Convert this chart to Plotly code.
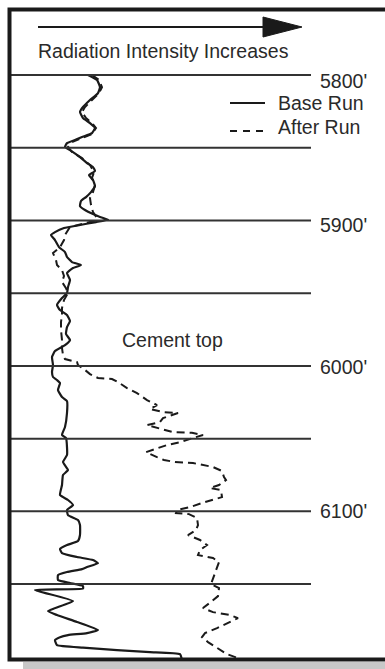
import plotly.graph_objects as go

W, H = 385, 669

# ---- data (depth in ft, relative radiation intensity) ----
base_depth = [5800.0, 5803.4, 5808.3, 5812.4, 5817.2, 5822.0, 5825.4, 5829.6, 5833.0, 5836.4,
              5839.9, 5842.6, 5844.7, 5846.8, 5849.5, 5851.6, 5856.4, 5860.5, 5863.3, 5866.0,
              5868.8, 5872.2, 5876.3, 5880.5, 5883.9, 5886.6, 5890.1, 5892.8, 5895.6, 5897.6,
              5899.4, 5901.1, 5903.1, 5905.2, 5908.0, 5910.0, 5913.5, 5918.3, 5921.7, 5925.1,
              5928.6, 5930.6, 5932.7, 5936.1, 5940.9, 5945.8, 5949.9, 5953.3, 5958.1, 5961.6,
              5965.0, 5969.2, 5973.3, 5978.1, 5982.2, 5985.7, 5989.8, 5993.9, 5999.4, 6004.2,
              6007.6, 6009.7, 6011.8, 6016.6, 6021.4, 6024.2, 6032.4, 6042.0, 6047.5, 6049.6,
              6055.8, 6061.3, 6066.1, 6071.6, 6075.0, 6081.9, 6088.8, 6092.2, 6095.7, 6099.1,
              6102.6, 6106.0, 6109.4, 6116.3, 6120.4, 6123.2, 6125.9, 6128.7, 6131.4, 6133.5,
              6135.6, 6138.3, 6139.7, 6141.7, 6143.8, 6147.2, 6149.3, 6151.4, 6153.1, 6154.1,
              6161.7, 6168.6, 6171.3, 6176.1, 6181.6, 6183.7, 6185.1, 6186.5, 6188.5, 6192.0,
              6193.7, 6195.4, 6196.8, 6198.2, 6202.3]
base_intensity = [88, 97, 100, 98, 90, 83, 80, 83, 90, 95,
                  92, 82, 75, 67, 65, 70, 80, 87, 93, 95,
                  89, 93, 95, 91, 86, 81, 80, 85, 93, 100,
                  108, 96, 80, 64, 55, 51, 55, 59, 65, 67,
                  72, 81, 73, 67, 70, 68, 67, 62, 57, 60,
                  67, 70, 67, 66, 70, 65, 55, 52, 53, 52,
                  53, 57, 60, 58, 62, 67, 67, 65, 62, 66,
                  67, 67, 63, 68, 63, 62, 60, 68, 73, 67,
                  68, 78, 80, 80, 78, 67, 60, 62, 77, 93,
                  98, 87, 82, 67, 58, 58, 70, 83, 83, 35,
                  73, 48, 57, 77, 98, 87, 68, 60, 55, 57,
                  83, 117, 150, 180, 182]

after_depth = [5800.0, 5803.4, 5808.3, 5812.4, 5817.2, 5822.0, 5825.4, 5829.6, 5833.0, 5836.4,
               5840.6, 5842.6, 5846.1, 5849.5, 5852.9, 5857.1, 5861.9, 5866.7, 5870.8, 5875.6,
               5880.5, 5884.6, 5889.4, 5894.2, 5898.3, 5900.4, 5904.5, 5910.0, 5913.5, 5918.3,
               5922.4, 5927.2, 5930.6, 5934.1, 5938.2, 5942.3, 5946.5, 5949.9, 5954.7, 5960.2,
               5965.0, 5969.8, 5975.3, 5982.2, 5987.7, 5992.5, 5995.3, 5997.3, 5999.4, 6002.8,
               6005.6, 6008.3, 6009.0, 6011.1, 6015.2, 6018.7, 6023.5, 6026.9, 6029.7, 6031.7,
               6032.4, 6035.9, 6038.6, 6040.7, 6042.7, 6045.5, 6046.0, 6047.5, 6049.6, 6052.4,
               6054.4, 6056.5, 6059.3, 6062.7, 6064.7, 6066.1, 6066.8, 6069.5, 6072.3, 6076.4,
               6078.5, 6081.9, 6084.0, 6085.4, 6090.2, 6093.6, 6097.1, 6099.1, 6101.2, 6101.9,
               6104.6, 6109.4, 6112.9, 6116.3, 6119.7, 6123.2, 6126.6, 6130.1, 6132.1, 6134.9,
               6140.4, 6145.9, 6150.0, 6152.8, 6158.3, 6161.7, 6166.5, 6169.3, 6171.3, 6173.4,
               6176.8, 6180.3, 6183.7, 6186.5, 6189.9, 6194.0, 6198.2, 6200.9]
after_intensity = [92, 99, 102, 99, 92, 85, 82, 86, 92, 96,
                   92, 85, 72, 68, 72, 82, 90, 94, 92, 95,
                   93, 90, 91, 93, 97, 94, 70, 65, 64, 60,
                   53, 56, 57, 62, 64, 62, 66, 68, 64, 62,
                   62, 61, 61, 62, 62, 63, 65, 77, 78, 85,
                   90, 98, 112, 118, 127, 137, 147, 157, 150, 163,
                   178, 163, 160, 147, 158, 173, 192, 203, 193, 180,
                   167, 157, 146, 157, 164, 175, 193, 213, 222, 224,
                   226, 219, 210, 221, 222, 205, 190, 177, 176, 189,
                   197, 198, 196, 188, 200, 207, 200, 198, 213, 219,
                   216, 213, 211, 219, 218, 212, 203, 213, 230, 238,
                   228, 217, 205, 202, 208, 217, 227, 238]

grid_depths = [5800, 5850, 5900, 5950, 6000, 6050, 6100, 6150]
label_depths = [5800, 5900, 6000, 6100]
label_texts = ["5800'", "5900'", "6000'", "6100'"]
label_shift = [-6, -5, -1, 0]

series_names = ["Base Run", "After Run"]
title_text = "Radiation Intensity Increases"
note_text = "Cement top"

# ---- geometry ----
Y_TOP, Y_BOTTOM = 5748.4, 6208.4
X_MAX = 385
INK = "#1a1a1a"
TXT = "#2a2a2a"
FONT = "Liberation Sans, Arial, sans-serif"
FS = 19.5


def px(x):
    return x / W


def py(y):
    return 1 - y / H


fig = go.Figure()
fig.add_trace(go.Scatter(x=base_intensity, y=base_depth, mode="lines", name=series_names[0],
                         line=dict(color=INK, width=2.2, shape="spline", smoothing=0.4),
                         hoverinfo="skip"))
fig.add_trace(go.Scatter(x=after_intensity, y=after_depth, mode="lines", name=series_names[1],
                         line=dict(color=INK, width=2, dash="8px,5px"),
                         hoverinfo="skip"))

shapes = []
# shadow
shapes.append(dict(type="rect", xref="paper", yref="paper", x0=px(23), x1=px(400),
                   y0=py(669), y1=py(662), fillcolor="#c8c8c8", line=dict(width=0), layer="below"))
# depth lines
for d in grid_depths:
    shapes.append(dict(type="line", xref="paper", yref="y", x0=px(11), x1=px(311), y0=d, y1=d,
                       line=dict(color="#333333", width=2)))
# border
shapes.append(dict(type="rect", xref="paper", yref="paper", x0=px(9.5), x1=px(400),
                   y0=py(659.5), y1=py(9.5), line=dict(color=INK, width=4)))
# arrow
shapes.append(dict(type="line", xref="paper", yref="paper", x0=px(38), x1=px(266), y0=py(27), y1=py(27),
                   line=dict(color=INK, width=2)))
shapes.append(dict(type="path", xref="paper", yref="paper",
                   path=f"M {px(263)} {py(17)} L {px(302)} {py(27)} L {px(263)} {py(37)} Z",
                   fillcolor=INK, line=dict(color=INK, width=1)))
# legend samples
shapes.append(dict(type="line", xref="paper", yref="paper", x0=px(230), x1=px(265), y0=py(103), y1=py(103),
                   line=dict(color=INK, width=2)))
shapes.append(dict(type="line", xref="paper", yref="paper", x0=px(230), x1=px(266), y0=py(131), y1=py(131),
                   line=dict(color=INK, width=2, dash="7px,6px")))

annotations = []
annotations.append(dict(text=title_text, xref="paper", yref="paper", x=px(36), y=py(51),
                        xanchor="left", yanchor="middle", showarrow=False))
for d, t, s in zip(label_depths, label_texts, label_shift):
    annotations.append(dict(text=t, xref="paper", yref="y", x=px(318), y=d, yshift=s,
                            xanchor="left", yanchor="middle", showarrow=False))
annotations.append(dict(text=series_names[0], xref="paper", yref="paper", x=px(276), y=py(103),
                        xanchor="left", yanchor="middle", showarrow=False))
annotations.append(dict(text=series_names[1], xref="paper", yref="paper", x=px(276), y=py(127),
                        xanchor="left", yanchor="middle", showarrow=False))
annotations.append(dict(text=note_text, xref="paper", yref="paper", x=px(120), y=py(340),
                        xanchor="left", yanchor="middle", showarrow=False))

fig.update_layout(
    width=W, height=H,
    margin=dict(l=0, r=0, t=0, b=0, pad=0),
    paper_bgcolor="white", plot_bgcolor="white",
    showlegend=False,
    font=dict(family=FONT, size=FS, color=TXT),
    xaxis=dict(range=[0, X_MAX], visible=False, fixedrange=True),
    yaxis=dict(range=[Y_BOTTOM, Y_TOP], visible=False, fixedrange=True),
    shapes=shapes,
    annotations=annotations,
)

fig.write_html("out.html", config={"displayModeBar": False},
               post_script="document.body.style.margin='0';document.body.style.overflow='hidden';")
